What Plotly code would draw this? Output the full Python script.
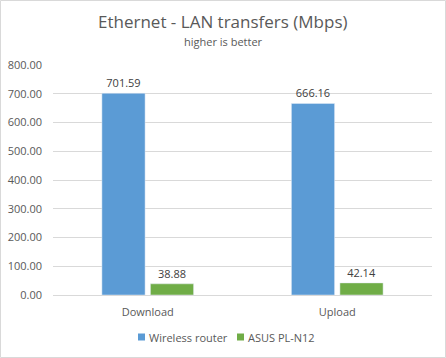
import plotly.graph_objects as go

categories = ["Download", "Upload"]
wireless_router = [701.59, 666.16]
asus_pl_n12 = [38.88, 42.14]
series_names = ["Wireless router", "ASUS PL-N12"]
series_colors = ["#5B9BD5", "#70AD47"]
tick_vals = [0, 100, 200, 300, 400, 500, 600, 700, 800]
tick_text = ["0.00", "100.00", "200.00", "300.00", "400.00", "500.00", "600.00", "700.00", "800.00"]

FONT = "Open Sans, Liberation Sans, sans-serif"
W, H = 446, 358
L, R, T, B = 53, 14, 65, 63
PW, PH = W - L - R, H - T - B

def px_x(x):
    return (x - L) / PW

def px_y(y):
    return (H - B - y) / PH

fig = go.Figure()
for name, vals, col in zip(series_names, [wireless_router, asus_pl_n12], series_colors):
    fig.add_trace(go.Bar(
        x=categories, y=vals, name=name,
        marker=dict(color=col),
        text=[f"{v:.2f}" for v in vals], textposition="outside",
        textfont=dict(size=11, color="#404040"), cliponaxis=False,
        showlegend=False,
    ))

# custom compact legend (small squares like the reference)
legend_x = [138, 237]
shapes = [dict(type="rect", xref="paper", yref="paper",
               x0=px_x(0.5), x1=px_x(W - 0.5), y0=px_y(H - 0.5), y1=px_y(0.5),
               line=dict(color="#D9D9D9", width=1), fillcolor="rgba(0,0,0,0)",
               layer="below")]
annotations = [
    dict(text="Ethernet - LAN transfers (Mbps)", xref="paper", yref="paper",
         x=px_x(W / 2), y=px_y(22), xanchor="center", yanchor="middle",
         showarrow=False, font=dict(size=17, color="#595959", family=FONT)),
    dict(text="higher is better", xref="paper", yref="paper",
         x=px_x(W / 2), y=px_y(42), xanchor="center", yanchor="middle",
         showarrow=False, font=dict(size=11, color="#595959", family=FONT)),
]
for lx, name, col in zip(legend_x, series_names, series_colors):
    shapes.append(dict(type="rect", xref="paper", yref="paper",
                       x0=px_x(lx), x1=px_x(lx + 7), y0=px_y(340.5), y1=px_y(333.5),
                       line=dict(width=0), fillcolor=col))
    annotations.append(dict(text=name, xref="paper", yref="paper",
                            x=px_x(lx + 9), y=px_y(337), xanchor="left", yanchor="middle",
                            showarrow=False, font=dict(size=11, color="#595959", family=FONT)))

fig.update_layout(
    width=W, height=H,
    margin=dict(l=L, r=R, t=T, b=B, autoexpand=False),
    paper_bgcolor="white", plot_bgcolor="white",
    font=dict(family=FONT, color="#595959", size=11),
    barmode="group", bargap=0.488, bargroupgap=0.11,
    showlegend=False,
    xaxis=dict(showgrid=False, showline=True, linecolor="#D9D9D9", ticks="",
               automargin=False, ticklabelstandoff=7,
               tickfont=dict(size=11, color="#595959")),
    yaxis=dict(range=[0, 800], tickvals=tick_vals, ticktext=tick_text,
               showgrid=True, gridcolor="#D9D9D9", zeroline=False,
               showline=False, ticks="", ticklabelstandoff=10, automargin=False,
               tickfont=dict(size=11, color="#595959")),
    annotations=annotations,
    shapes=shapes,
)

fig.write_html("out.html", config={"displayModeBar": False},
               post_script="document.body.style.margin='0';document.body.style.padding='0';")
